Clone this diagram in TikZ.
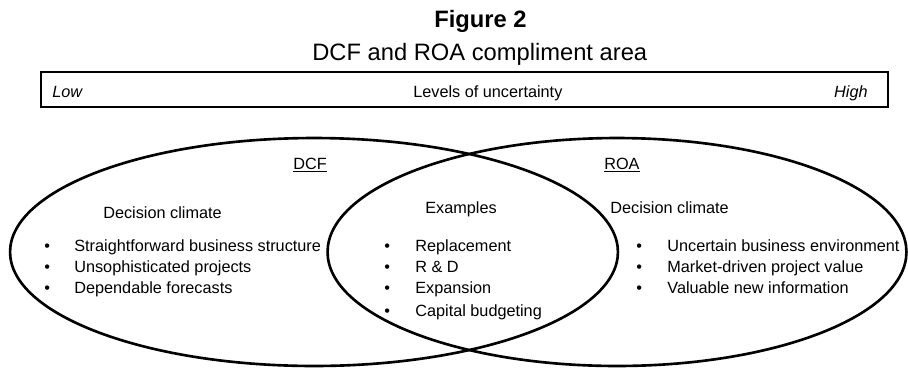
\documentclass[tikz,border=0pt]{standalone}
\usepackage{fontspec}
\setmainfont{Liberation Sans}
\usetikzlibrary{shapes.geometric}

\tikzset{
  txt/.style={inner sep=0pt, anchor=base west, font=\fontsize{9.25}{11}\selectfont},
  bigtxt/.style={inner sep=0pt, anchor=base west, font=\fontsize{13.5}{16}\selectfont},
  venn/.style={ellipse, draw, line width=1.5pt, inner sep=0pt, minimum height=4.56cm}
}

\begin{document}
\begin{tikzpicture}[x=0.02cm, y=-0.02cm]

         \useasboundingbox (0,0) rectangle (908,369);

         % title and scale bar
         \node [bigtxt, font=\fontsize{13.5}{16}\selectfont\bfseries] (title) at (434,27) {Figure 2};
         \node [bigtxt] (subtitle) at (312,60) {DCF and ROA compliment area};
         \draw [line width=1.6pt] (41,72) rectangle (888,107);
         \node [txt, font=\fontsize{9.25}{11}\selectfont\itshape] (low) at (52,97) {Low};
         \node [txt] (levels) at (413,97) {Levels of uncertainty};
         \node [txt, anchor=base east, font=\fontsize{9.25}{11}\selectfont\itshape] (high) at (868,97) {High};

         % the two areas
         \node [venn, minimum width=12.16cm] (dcf) at (314,252) {};
         \node [venn, minimum width=11.58cm] (roa) at (617,252) {};

         \node [txt] (dcflabel) at (293,169) {\underline{DCF}};
         \node [txt] (roalabel) at (604,169) {\underline{ROA}};

         % DCF side
         \node [txt] (climateleft) at (103,218) {Decision climate};
         \node [txt] (bulletl1) at (44,251) {•};
         \node [txt] (bulletl2) at (44,272) {•};
         \node [txt] (bulletl3) at (44,293) {•};
         \node [txt] (left1) at (74,251) {Straightforward business structure};
         \node [txt] (left2) at (74,272) {Unsophisticated projects};
         \node [txt] (left3) at (74,293) {Dependable forecasts};

         % overlap
         \node [txt] (examples) at (425,213) {Examples};
         \node [txt] (bulletm1) at (384,251) {•};
         \node [txt] (bulletm2) at (384,272) {•};
         \node [txt] (bulletm3) at (384,293) {•};
         \node [txt] (bulletm4) at (384,316) {•};
         \node [txt] (mid1) at (415,251) {Replacement};
         \node [txt] (mid2) at (415,272) {R \& D};
         \node [txt] (mid3) at (415,293) {Expansion};
         \node [txt] (mid4) at (415,316) {Capital budgeting};

         % ROA side
         \node [txt] (climateright) at (610,213) {Decision climate};
         \node [txt] (bulletr1) at (636,251) {•};
         \node [txt] (bulletr2) at (636,272) {•};
         \node [txt] (bulletr3) at (636,293) {•};
         \node [txt] (right1) at (667,251) {Uncertain business environment};
         \node [txt] (right2) at (667,272) {Market-driven project value};
         \node [txt] (right3) at (667,293) {Valuable new information};

\end{tikzpicture}
\end{document}
